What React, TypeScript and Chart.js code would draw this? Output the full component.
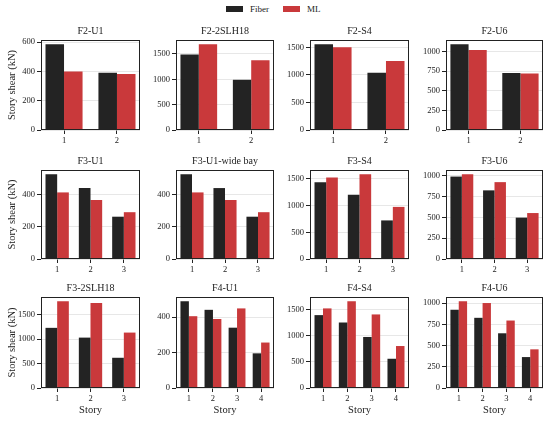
import React, { useEffect, useRef } from "react";
import { Chart, registerables } from "chart.js";

Chart.register(...registerables);

const FONT = "'Liberation Serif', 'Times New Roman', Times, serif";

// ---------- data ----------
const seriesNames = ["Fiber", "ML"];
const seriesColors = ["#232323", "#c9393b"];

const stories2 = [1, 2];
const stories3 = [1, 2, 3];
const stories4 = [1, 2, 3, 4];

const ticks600 = [0, 200, 400, 600];
const ticks400 = [0, 200, 400];
const ticks1500 = [0, 500, 1000, 1500];
const ticks1000 = [0, 250, 500, 750, 1000];

const f2u1Fiber = [585, 390];
const f2u1ML = [400, 382];
const f22slhFiber = [1490, 990];
const f22slhML = [1690, 1375];
const f2s4Fiber = [1555, 1040];
const f2s4ML = [1500, 1250];
const f2u6Fiber = [1093, 728];
const f2u6ML = [1020, 722];

const f3u1Fiber = [527, 441, 263];
const f3u1ML = [414, 367, 291];
const f3wideFiber = [527, 441, 263];
const f3wideML = [414, 367, 291];
const f3s4Fiber = [1438, 1204, 722];
const f3s4ML = [1525, 1586, 975];
const f3u6Fiber = [992, 826, 498];
const f3u6ML = [1020, 925, 553];

const f32slhFiber = [1232, 1032, 619];
const f32slhML = [1775, 1741, 1135];
const f4u1Fiber = [490, 442, 341, 196];
const f4u1ML = [406, 390, 450, 257];
const f4s4Fiber = [1391, 1250, 974, 558];
const f4s4ML = [1519, 1654, 1404, 801];
const f4u6Fiber = [921, 826, 644, 364];
const f4u6ML = [1020, 1000, 794, 455];

const titles = [
  "F2-U1", "F2-2SLH18", "F2-S4", "F2-U6",
  "F3-U1", "F3-U1-wide bay", "F3-S4", "F3-U6",
  "F3-2SLH18", "F4-U1", "F4-S4", "F4-U6",
];
const panelStories = [
  stories2, stories2, stories2, stories2,
  stories3, stories3, stories3, stories3,
  stories3, stories4, stories4, stories4,
];
const panelFiber = [
  f2u1Fiber, f22slhFiber, f2s4Fiber, f2u6Fiber,
  f3u1Fiber, f3wideFiber, f3s4Fiber, f3u6Fiber,
  f32slhFiber, f4u1Fiber, f4s4Fiber, f4u6Fiber,
];
const panelML = [
  f2u1ML, f22slhML, f2s4ML, f2u6ML,
  f3u1ML, f3wideML, f3s4ML, f3u6ML,
  f32slhML, f4u1ML, f4s4ML, f4u6ML,
];
const panelTicks = [
  ticks600, ticks1500, ticks1500, ticks1000,
  ticks400, ticks400, ticks1500, ticks1000,
  ticks1500, ticks400, ticks1500, ticks1000,
];

const yLabel = "Story shear (kN)";
const xLabel = "Story";

// ---------- layout ----------
const COLS: [number, number][] = [[41, 140], [176, 274], [310, 409], [446, 543]];
const ROWS: [number, number][] = [[40, 130], [170, 259], [297, 388]];
const BAR = 0.35;
const TITLE_H = 15;
const RIGHT_PAD = 4;

const framePlugin = {
  id: "frame",
  afterDraw(chart: any) {
    const { ctx, chartArea } = chart;
    ctx.save();
    ctx.strokeStyle = "#222";
    ctx.lineWidth = 1;
    ctx.strokeRect(
      Math.round(chartArea.left) + 0.5,
      Math.round(chartArea.top) + 0.5,
      Math.round(chartArea.right - chartArea.left) - 1,
      Math.round(chartArea.bottom - chartArea.top) - 1
    );
    const title = chart.options.plugins.panelTitle?.text;
    if (title) {
      ctx.fillStyle = "#222";
      ctx.font = `10px ${FONT}`;
      ctx.textAlign = "center";
      ctx.textBaseline = "middle";
      ctx.fillText(title, (chartArea.left + chartArea.right) / 2, chartArea.top - 8.5);
    }
    ctx.restore();
  },
};

function Panel({ idx }: { idx: number }) {
  const ref = useRef<HTMLCanvasElement>(null);
  const col = idx % 4;
  const row = Math.floor(idx / 4);
  const [L, R] = COLS[col];
  const [T, B] = ROWS[row];
  const yw = col === 0 ? L : 34;
  const xh = row === 2 ? 30 : 16;
  const w = yw + (R - L) + RIGHT_PAD;
  const h = TITLE_H + (B - T) + xh;

  useEffect(() => {
    const stories = panelStories[idx];
    const fiber = panelFiber[idx];
    const ml = panelML[idx];
    const yt = panelTicks[idx];
    const n = stories.length;
    const span = n - 1 + 2 * BAR;
    const xmin = 1 - BAR - 0.05 * span;
    const xmax = n + BAR + 0.05 * span;
    const ymax = Math.max(...fiber, ...ml) * 1.05;

    const chart = new Chart(ref.current as HTMLCanvasElement, {
      type: "bar",
      data: {
        datasets: [
          {
            label: seriesNames[0],
            data: stories.map((s, i) => ({ x: s, y: fiber[i] })),
            backgroundColor: seriesColors[0],
            borderWidth: 0,
          },
          {
            label: seriesNames[1],
            data: stories.map((s, i) => ({ x: s, y: ml[i] })),
            backgroundColor: seriesColors[1],
            borderWidth: 0,
          },
        ],
      },
      options: {
        responsive: false,
        animation: false,
        events: [],
        datasets: {
          bar: { categoryPercentage: 2 * BAR, barPercentage: 1.0 },
        },
        layout: { padding: { right: RIGHT_PAD, left: 0, top: TITLE_H, bottom: 0 } },
        plugins: {
          legend: { display: false },
          tooltip: { enabled: false },
          title: { display: false },
          panelTitle: { text: titles[idx] },
        },
        scales: {
          x: {
            type: "linear",
            min: xmin,
            max: xmax,
            offset: false,
            bounds: "data",
            afterBuildTicks: (scale: any) => {
              scale.ticks = stories.map((v) => ({ value: v }));
            },
            afterFit: (scale: any) => {
              scale.height = xh;
            },
            ticks: {
              color: "#222",
              font: { family: FONT, size: 8.5 },
              padding: 1.5,
              maxRotation: 0,
              autoSkip: false,
              callback: (v: any) => String(v),
            },
            grid: {
              offset: false,
              drawOnChartArea: false,
              drawTicks: true,
              tickLength: 4,
              color: "#222",
              lineWidth: 1,
            },
            border: { display: false },
            title: {
              display: row === 2,
              text: xLabel,
              color: "#222",
              font: { family: FONT, size: 10.5, lineHeight: 1.2 },
              padding: { top: 0, bottom: 1 },
            },
          },
          y: {
            type: "linear",
            min: 0,
            max: ymax,
            bounds: "data",
            z: 1,
            afterBuildTicks: (scale: any) => {
              scale.ticks = yt.map((v) => ({ value: v }));
            },
            afterFit: (scale: any) => {
              scale.width = yw;
            },
            ticks: {
              color: "#222",
              font: { family: FONT, size: 8.5 },
              padding: 2,
              autoSkip: false,
              callback: (v: any) => String(v),
            },
            grid: {
              drawOnChartArea: true,
              drawTicks: true,
              tickLength: 4,
              color: "rgba(215,215,215,0.75)",
              tickColor: "#222",
              lineWidth: 0.8,
              tickWidth: 1,
            },
            border: { display: false },
            title: {
              display: col === 0,
              text: yLabel,
              color: "#222",
              font: { family: FONT, size: 10.5, lineHeight: 1.2 },
              padding: { top: 6, bottom: 0 },
            },
          },
        },
      } as any,
      plugins: [framePlugin],
    });
    return () => chart.destroy();
  }, [idx]);

  return (
    <canvas
      ref={ref}
      width={w}
      height={h}
      style={{ position: "absolute", left: L - yw, top: T - TITLE_H, width: w, height: h }}
    />
  );
}

function LegendItem({ x, color, label }: { x: number; color: string; label: string }) {
  return (
    <>
      <div style={{ position: "absolute", left: x, top: 6, width: 17, height: 6, background: color }} />
      <div
        style={{
          position: "absolute",
          left: x + 24,
          top: 3,
          fontFamily: FONT,
          fontSize: 9,
          lineHeight: "12px",
          color: "#222",
          whiteSpace: "nowrap",
        }}
      >
        {label}
      </div>
    </>
  );
}

export default function App() {
  return (
    <div
      style={{
        position: "absolute",
        left: 0,
        top: 0,
        width: 550,
        height: 421,
        background: "#fff",
        overflow: "hidden",
      }}
    >
      <LegendItem x={226} color={seriesColors[0]} label={seriesNames[0]} />
      <LegendItem x={283} color={seriesColors[1]} label={seriesNames[1]} />
      {titles.map((_, i) => (
        <Panel key={i} idx={i} />
      ))}
    </div>
  );
}
